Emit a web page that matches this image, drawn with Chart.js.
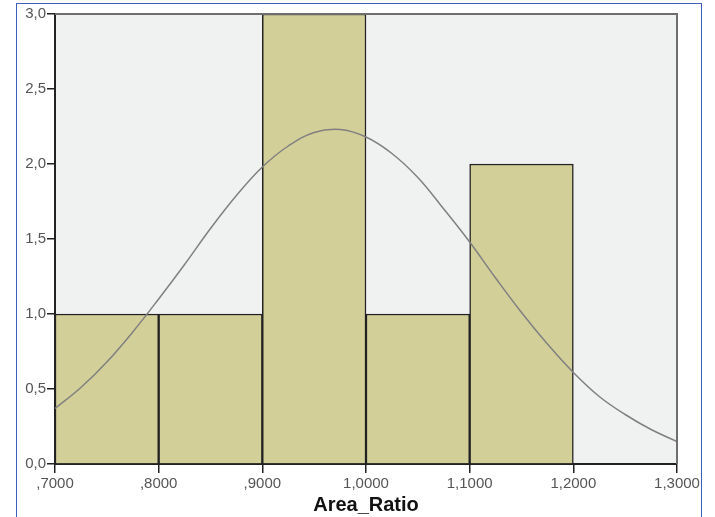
<!DOCTYPE html>
<html>
<head>
<meta charset="utf-8">
<script src="https://cdn.jsdelivr.net/npm/chart.js@4.4.1/dist/chart.umd.min.js"></script>
<style>
  html, body { margin: 0; padding: 0; background: #fff; }
  #wrap { position: relative; width: 715px; height: 517px; }
  #frame { position: absolute; left: 16px; top: 3px; width: 686px; height: 520px;
           border: 1px solid #3c5fb8; box-sizing: border-box; pointer-events: none; }
</style>
</head>
<body>
<div id="wrap">
  <canvas id="hist" width="715" height="517"></canvas>
  <div id="frame"></div>
</div>
<script>
// histogram bins (width 0.1) and counts
const binStarts = [0.7, 0.8, 0.9, 1.0, 1.1];
const counts = [1, 1, 3, 1, 2];
const binWidth = 0.1;

// normal curve
const curveX = [0.700, 0.725, 0.750, 0.775, 0.800, 0.825, 0.850, 0.875, 0.900, 0.925, 0.950, 0.975,
                1.000, 1.025, 1.050, 1.075, 1.100, 1.125, 1.150, 1.175, 1.200, 1.225, 1.250, 1.275, 1.300];
const curveY = [0.37, 0.51, 0.68, 0.88, 1.10, 1.33, 1.57, 1.79, 1.98, 2.12, 2.21, 2.23,
                2.18, 2.07, 1.91, 1.70, 1.48, 1.24, 1.01, 0.80, 0.61, 0.45, 0.33, 0.23, 0.15];

const xTicks = [0.7, 0.8, 0.9, 1.0, 1.1, 1.2, 1.3];
const yTicks = [0, 0.5, 1.0, 1.5, 2.0, 2.5, 3.0];

const bars = binStarts.map((s, i) => ({ x: s + binWidth / 2, y: counts[i] }));
const curve = curveX.map((x, i) => ({ x: x, y: curveY[i] }));

function fmtX(v) {
  var s = v.toFixed(4).replace('.', ',');
  if (s.charAt(0) == '0') s = s.substring(1);
  return s;
}

const plotBg = {
  id: 'plotBg',
  beforeDraw(chart) {
    const c = chart.ctx, a = chart.chartArea;
    c.save();
    c.fillStyle = '#f0f1f1';
    c.fillRect(a.left, a.top, a.right - a.left, a.bottom - a.top);
    c.restore();
  },
  afterDatasetsDraw(chart) {
    const c = chart.ctx, a = chart.chartArea;
    c.save();
    c.strokeStyle = '#6e6e6e';
    c.lineWidth = 2;
    c.beginPath();
    c.moveTo(a.left, a.top);
    c.lineTo(a.right, a.top);
    c.lineTo(a.right, a.bottom);
    c.stroke();
    c.restore();
  }
};

new Chart(document.getElementById('hist'), {
  type: 'bar',
  data: {
    datasets: [
      {
        type: 'line',
        data: curve,
        borderColor: '#808080',
        borderWidth: 1.5,
        pointRadius: 0,
        tension: 0.4,
        fill: false,
        order: 0
      },
      {
        type: 'bar',
        data: bars,
        backgroundColor: '#d3cf99',
        borderColor: '#222',
        borderWidth: 1.5,
        barPercentage: 1,
        categoryPercentage: 1,
        grouped: false,
        order: 1
      }
    ]
  },
  options: {
    responsive: false,
    animation: false,
    layout: { padding: { left: 0, top: 14, right: 38, bottom: 0 } },
    plugins: { legend: { display: false }, tooltip: { enabled: false } },
    scales: {
      x: {
        type: 'linear',
        offset: false,
        min: 0.7,
        max: 1.3,
        afterBuildTicks: (s) => { s.ticks = xTicks.map(v => ({ value: v })); },
        afterFit: (s) => { s.height = 53; },
        ticks: {
          callback: (v) => fmtX(v),
          color: '#555',
          font: { family: 'Liberation Sans', size: 15 },
          padding: 2,
          maxRotation: 0,
          autoSkip: false
        },
        grid: { offset: false, drawOnChartArea: false, drawTicks: true, tickLength: 9, color: '#222', lineWidth: 1.5 },
        border: { display: true, color: '#222', width: 2 },
        title: {
          display: true,
          text: 'Area_Ratio',
          color: '#111',
          font: { family: 'Liberation Sans', size: 20, weight: 'bold' },
          padding: { top: 2, bottom: 0 }
        }
      },
      y: {
        min: 0,
        max: 3,
        afterBuildTicks: (s) => { s.ticks = yTicks.map(v => ({ value: v })); },
        afterFit: (s) => { s.width = 55; },
        ticks: {
          callback: (v) => v.toFixed(1).replace('.', ','),
          color: '#555',
          font: { family: 'Liberation Sans', size: 15 },
          padding: 1
        },
        grid: { drawOnChartArea: false, drawTicks: true, tickLength: 8, color: '#222', lineWidth: 1.5 },
        border: { display: true, color: '#222', width: 2 }
      }
    }
  },
  plugins: [plotBg]
});
</script>
</body>
</html>
